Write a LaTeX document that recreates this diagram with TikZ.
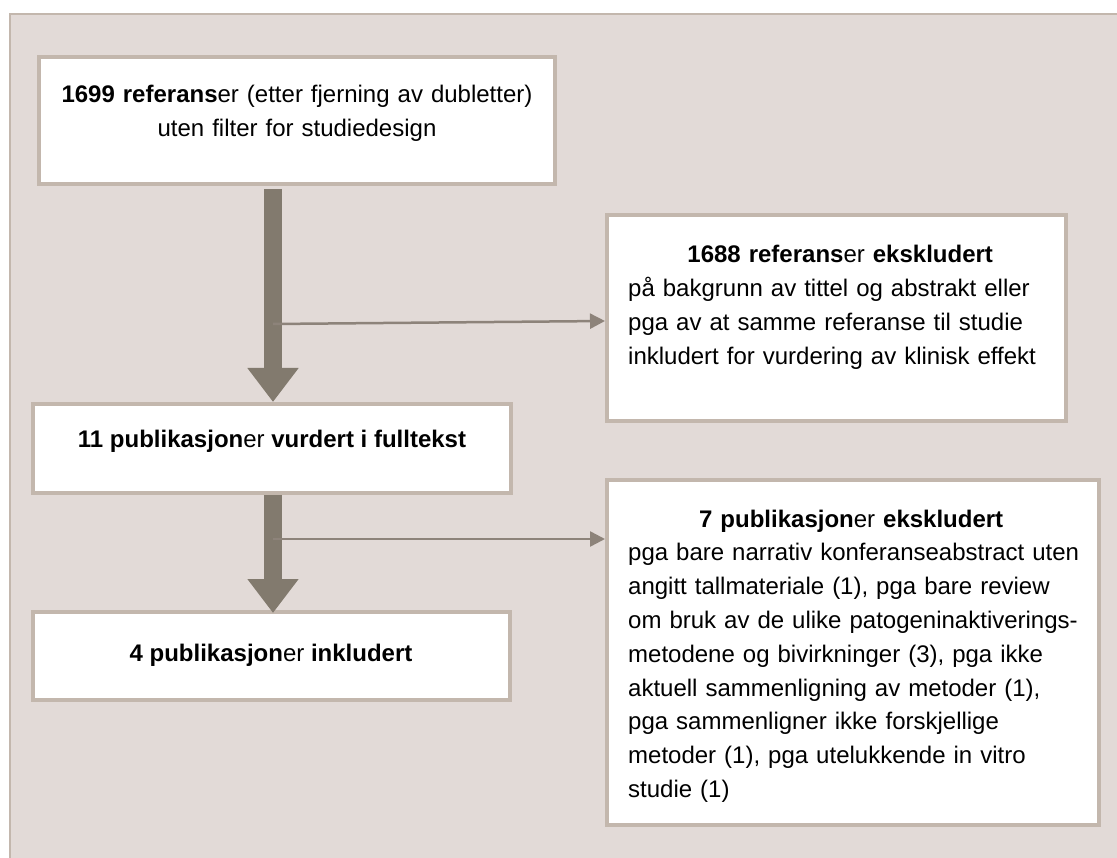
\documentclass[tikz,border=0pt]{standalone}
\usepackage{fontspec}
\setmainfont{Liberation Sans}
\usetikzlibrary{arrows.meta}
\definecolor{panel}{HTML}{E2DAD7}
\definecolor{frame}{HTML}{C3B7AD}
\definecolor{barcol}{HTML}{827A6E}
\definecolor{thincol}{HTML}{8D837A}
\tikzset{
  box/.style={draw=frame, line width=4pt, fill=white, inner sep=0pt},
  txt/.style={inner sep=0pt, font=\fontsize{24}{33.8}\selectfont, text=black},
  bararrow/.style={draw=barcol, line width=18pt, -{Triangle[length=34pt,width=49pt]}},
  thinarrow/.style={draw=thincol, line width=2.5pt, -{Triangle[length=15pt,width=15pt]}}
}
\begin{document}
\begin{tikzpicture}[x=1pt,y=-1pt]
\useasboundingbox (0,0) rectangle (1117,858);
\fill[white] (0,0) rectangle (1117,858);
\fill[panel] (10,14) rectangle (1117,858);
\draw[frame, line width=2.5pt] (10,858) -- (10,14) -- (1117,14);
% boxes
\node[box, minimum width=516pt, minimum height=127pt] (B1) at (297,120.5) {};
\node[box, minimum width=459pt, minimum height=206pt] (R1) at (836.5,318) {};
\node[box, minimum width=478pt, minimum height=89pt] (B2) at (272,448.5) {};
\node[box, minimum width=477pt, minimum height=88pt] (B3) at (271.5,656) {};
\node[box, minimum width=492pt, minimum height=345pt] (R2) at (853,652.5) {};
% texts
\node[txt, anchor=base, text width=510pt, align=center] (T1) at (297,103)
  {\textbf{1699 referans}er (etter fjerning av dubletter)\\uten filter for studiedesign};
\node[txt, anchor=base] (T2) at (272,448) {\textbf{11 publikasjon}er \textbf{vurdert i fulltekst}};
\node[txt, anchor=base] (T3) at (271,661) {\textbf{4 publikasjon}er \textbf{inkludert}};
\node[txt, anchor=base west, text width=440pt, align=left] (T4) at (628,263)
  {\makebox[424pt][c]{\textbf{1688 referans}er \textbf{ekskludert}}\\
   på bakgrunn av tittel og abstrakt eller\\
   pga av at samme referanse til studie\\
   inkludert for vurdering av klinisk effekt};
\node[txt, anchor=base west, text width=470pt, align=left] (T5) at (628,527)
  {\makebox[446pt][c]{\textbf{7 publikasjon}er \textbf{ekskludert}}\\
   pga bare narrativ konferanseabstract uten\\
   angitt tallmateriale (1), pga bare review\\
   om bruk av de ulike patogeninaktiverings-\\
   metodene og bivirkninger (3), pga ikke\\
   aktuell sammenligning av metoder (1),\\
   pga sammenligner ikke forskjellige\\
   metoder (1), pga utelukkende in vitro\\
   studie (1)};
% junctions
\coordinate (j1) at (273,324);
\coordinate (j2) at (273,539);
% main arrows
\draw[bararrow, shorten <=3pt] (B1.south -| j1) -- (B2.north -| j1);
\draw[bararrow, shorten >=-3pt] (B2.south -| j1) -- (B3.north -| j1);
% side arrows
\draw[thinarrow] (j1) -- ([yshift=-3pt]R1.west);
\draw[thinarrow] (j2) -- (j2 -| R2.west);
\end{tikzpicture}
\end{document}
